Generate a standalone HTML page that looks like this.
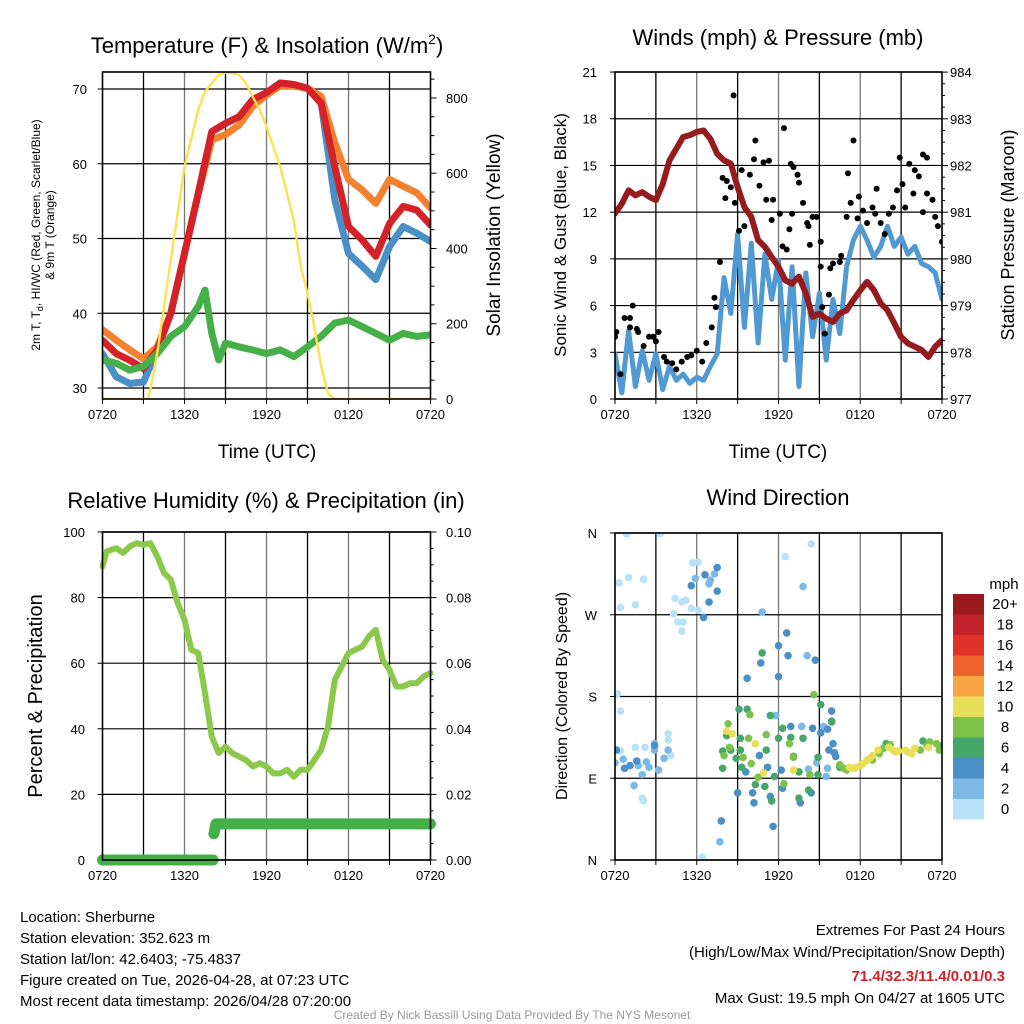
<!DOCTYPE html>
<html><head><meta charset="utf-8"><style>
html,body{margin:0;padding:0;background:#fff;}
svg{display:block;font-family:"Liberation Sans",sans-serif;}
</style></head><body>
<svg id="c" width="1024" height="1024" viewBox="0 0 1024 1024" xmlns="http://www.w3.org/2000/svg">
<rect width="1024" height="1024" fill="#fff"/>
<g font-size="22" text-anchor="middle" fill="#000">
<text x="267" y="53">Temperature (F) &amp; Insolation (W/m<tspan dy="-9" font-size="14">2</tspan><tspan dy="9">)</tspan></text>
<text x="778" y="45">Winds (mph) &amp; Pressure (mb)</text>
<text x="266" y="508">Relative Humidity (%) &amp; Precipitation (in)</text>
<text x="778" y="505">Wind Direction</text>
</g>
<g font-size="19" text-anchor="middle">
<text x="267" y="458">Time (UTC)</text>
<text x="778" y="458">Time (UTC)</text>
<text transform="translate(500,235) rotate(-90)">Solar Insolation (Yellow)</text>
<text transform="translate(1014,235) rotate(-90)" font-size="18">Station Pressure (Maroon)</text>
<text transform="translate(42,696) rotate(-90)" font-size="20">Percent &amp; Precipitation</text>
<text transform="translate(566,235) rotate(-90)" font-size="17">Sonic Wind &amp; Gust (Blue, Black)</text>
<text transform="translate(567,696) rotate(-90)" font-size="16">Direction (Colored By Speed)</text>
</g>
<g font-size="12" text-anchor="middle">
<text transform="translate(40,235) rotate(-90)">2m T, T<tspan dy="3" font-size="9">d</tspan><tspan dy="-3">, HI/WC (Red, Green, Scarlet/Blue)</tspan></text>
<text transform="translate(54,235) rotate(-90)">&amp; 9m T (Orange)</text>
</g>
<g id="layer"></g>
<g font-size="15" fill="#000">
<text x="20" y="922">Location: Sherburne</text>
<text x="20" y="943">Station elevation: 352.623 m</text>
<text x="20" y="964">Station lat/lon: 42.6403; -75.4837</text>
<text x="20" y="985">Figure created on Tue, 2026-04-28, at 07:23 UTC</text>
<text x="20" y="1006">Most recent data timestamp: 2026/04/28 07:20:00</text>
</g>
<g font-size="15" text-anchor="end">
<text x="1005" y="935">Extremes For Past 24 Hours</text>
<text x="1005" y="957">(High/Low/Max Wind/Precipitation/Snow Depth)</text>
<text x="1005" y="981" fill="#d0222a" font-weight="bold">71.4/32.3/11.4/0.01/0.3</text>
<text x="1005" y="1003">Max Gust: 19.5 mph On 04/27 at 1605 UTC</text>
</g>
<text x="512" y="1019" font-size="12" fill="#999" text-anchor="middle">Created By Nick Bassill Using Data Provided By The NYS Mesonet</text>
</svg>
<script>
// ---- Panel 1 data ----
const tHours = [0,1,2,3,4,5,6,7,8,9,10,11,12,13,14,15,16,17,18,19,20,21,22,23,24];
const tempRed = [36.4,34.6,33.7,32.6,35.1,40,48,56,64.3,65.4,66.3,68.6,69.5,70.8,70.6,70.1,68.1,59.6,51.6,49.8,47.6,52,54.3,53.8,51.8];
const temp9m = [37.8,36.4,35.1,33.9,35.5,40,48,56,63.2,63.9,65.2,67.7,69.2,70.4,70.4,70.1,69,62.8,57.9,56.5,54.7,57.9,57,56.1,54.1];
const tempHiWc = [34.6,31.5,30.6,30.8,35.1,40,48,56,64.3,65.4,66.3,68.6,69.5,70.8,70.6,70.1,68.1,55.2,48,46.3,44.5,48.9,51.6,50.7,49.6];
const dewHours = [0,1,2,3,4,5,6,7,7.5,8,8.5,9,10,11,12,13,14,15,16,17,18,19,20,21,22,23,24];
const dewVals = [33.75,33.3,32.4,32.9,34.6,36.9,38.2,40.9,43.1,37.3,33.75,36,35.5,35.1,34.6,35.1,34.2,35.5,36.9,38.7,39.1,38.2,37.3,36.4,37.3,36.9,37.1];
const solarHours = [0,3.3,3.5,4,5,6,7,7.5,8,8.5,9,9.5,10,10.5,11,11.5,12,13,14,14.5,15,15.5,16,16.5,17,24];
const solarVals = [0,0,24,121,369,617,768,817,839,861,867,866,861,839,803,768,724,617,476,352,281,192,86,15,0,0];
const p1LeftTicks = [30,40,50,60,70];
const p1RightTicks = [0,200,400,600,800];
const timeLabels = ["0720","1320","1920","0120","0720"];
// ---- Panel 2 data ----
const presHours = [0,0.5,1,1.5,2,2.5,3,3.5,4,5,5.5,6,6.5,7,7.5,8,8.5,9,9.5,10,10.5,11,11.5,12,12.5,13,13.5,14,14.5,15,15.5,16,16.5,17,17.5,18,18.5,19,19.5,20,20.5,21,21.5,22,22.5,23,23.5,24];
const presVals = [980.97,981.18,981.47,981.36,981.43,981.33,981.26,981.6,982.11,982.61,982.65,982.72,982.75,982.57,982.25,982.11,982.04,981.54,981.11,980.9,980.4,980.26,980.04,979.83,979.54,979.47,979.62,979.26,978.76,978.83,978.72,978.65,978.83,978.9,979.12,979.33,979.51,979.33,979.05,978.9,978.62,978.33,978.19,978.12,978.05,977.9,978.12,978.26];
const windHours = [0,0.5,1,1.5,2,2.5,3,3.5,4,4.5,5,5.5,6,6.5,7,7.5,8,8.5,9,9.5,10,10.5,11,11.5,12,12.5,13,13.5,14,14.5,15,15.5,16,16.5,17,17.5,18,18.5,19,19.5,20,20.5,21,21.5,22,22.5,23,23.5,24];
const windVals = [2.9,0.4,4.4,0.8,3.1,1.2,2.9,0.6,2.1,1.2,1.6,1.0,1.4,1.2,2.1,2.9,7.8,5.5,10.6,4.6,10,3.6,9.3,6.4,8.9,2.5,8.5,0.8,8.1,4,6.8,2.5,6.4,4.2,8.5,10.2,11.1,10.2,9.1,9.8,11.1,9.8,10.4,9.3,9.8,8.7,8.5,8.1,6.4];
const gustHours = [0,0.1,0.4,0.7,1.1,1.3,1.1,1.6,1.7,2.1,2.5,2.8,3,3.2,3.6,3.8,4.2,4.5,4.9,5.3,5.6,6,6.4,6.7,7.1,7.3,7.4,7.7,7.9,8.1,8.2,8.5,8.7,8.8,9.1,9.3,9.5,9.9,10.2,10.3,10.6,10.9,11.1,11.3,11.6,11.5,12.1,12.3,12.4,12.6,12.8,13,12.9,13.1,13.4,13.5,13.8,14.1,14.2,14.3,14.5,14.8,15.1,15.1,15.2,15.4,15.7,15.8,16,16.5,16.6,17,17.1,17.3,17.5,17.8,17.9,18.2,18.5,18.9,19.1,19.2,19.5,19.8,20.1,20.4,20.7,20.9,21.1,21.3,21.6,21.9,22,22.3,22.6,22.9,22.6,22.9,23.3,23.5,23.7,24];
const gustVals = [4.0,4.3,1.6,5.2,5.2,6.0,4.6,4.5,4.3,3.4,4.0,4.0,3.7,4.3,2.7,2.4,2.3,1.9,2.4,2.7,2.8,3.1,2.4,3.6,4.6,6.5,5.9,8.8,14.2,12.9,14,13.6,19.5,12.6,10.8,14.7,11.1,14.4,15.4,16.6,13.7,15.2,12.8,15.3,12.8,11.5,11.9,9.8,17.4,9.6,10.9,11.9,15.1,14.9,14.4,13.9,12.6,11.3,11.1,9.9,11.7,11.7,10.1,8.5,5.9,4.2,6.7,8.4,8.7,8.8,9.2,11.7,14.5,12.6,16.6,11.6,13,12.1,11.3,12.3,11.9,13.5,11.3,10.6,11.9,12.3,13.4,15.5,13.8,12.3,15.1,13.2,14.7,14.3,15.7,15.5,12,13.2,12.8,11.7,11.1,10.1];
const p2LeftTicks = [0,3,6,9,12,15,18,21];
const p2RightTicks = [977,978,979,980,981,982,983,984];
// ---- Panel 3 data ----
const rhHours = [0,0.3,1,1.5,2,2.5,3,3.5,4,4.5,5,5.5,6,6.5,7,7.5,8,8.5,9,9.5,10,10.5,11,11.5,12,12.5,13,13.5,14,14.5,15,15.5,16,16.5,17,17.5,18,18.5,19,19.5,20,20.5,21,21.5,22,22.5,23,23.5,24];
const rhVals = [89.5,94.1,95.1,93.6,95.6,96.6,96.1,96.6,92.6,87.5,85.5,78.3,73.2,64.1,63.1,50.9,37.6,32.6,34.6,32.6,31.5,30.5,28.5,29.5,28.5,26.4,26.4,27.5,25.4,27.5,27.5,30.5,33.6,40.7,54.9,59,63.1,64.1,65.1,68.2,70.2,61,58,52.9,52.9,53.9,53.9,56,57];
const precipHours = [0,8.1,8.15,8.3,24];
const precipVals = [0,0,0.008,0.011,0.011];
const p3LeftTicks = [0,20,40,60,80,100];
const p3RightTicks = ["0.00","0.02","0.04","0.06","0.08","0.10"];
// ---- Panel 4 data ----
const dirHours = [0.86,3.3,14.4,12.5,0.3,1,2.1,0.4,1.5,5.7,6.1,4.4,4.9,5.2,4.3,4.6,5,4.9,5.6,6.1,0.2,0.4,3.9,3.9,1.5,2.2,4.1,6.4,2,2.1,0.4,
 0,0.6,1.4,2,2.5,2.9,3.2,3.6,2.9,3.9,5.9,6.9,7.3,7,7.7,13.8,10.8,14.1,11.8,13.7,15.3,14.2,14.8,15.6,15.5,2.3,1.7,
 0.1,0.7,1.1,1.6,2.9,5.6,6.6,7.5,6.5,6.9,7.5,12.6,12,12.7,10.7,14.7,9.7,12,15.9,15.9,12.9,14.5,15.6,15.1,16,15.7,16.1,16.2,10.6,9.6,11.2,12.2,12.3,9,10.1,10.2,11.4,13.6,14.4,11.6,7.8,
 10.8,9.1,9.7,11.4,12.3,12.9,13.8,15.1,15.9,8.2,9.2,7.9,8.5,9.2,8.9,9.3,7.9,11.1,12,13.1,13.5,11.7,10.3,11,11.5,13.5,14.2,14.9,14.9,16.5,24,22.6,19.9,
 8.3,9.9,8.4,8,9.4,9.8,10,11.1,12.8,13.1,14.6,12.4,10.5,14.3,16.5,16.8,17,18.9,19.4,19.7,20.2,22.9,23.1,23.6,23.8,22.4,
 8.2,8.6,10.3,10.9,13.1,17.2,17.5,18,18.5,18.9,19.3,20.4,20.8,21.3,21.8,22,23,20.1,17.7,18.2,18.7,20.6,21.5];
const dirDegs = [359,359,348,334,305,311,309,278,281,327,328,288,284,286,271,262,262,252,277,275,183,164,139,132,124,124,115,3,68,65,120,
 107,111,82,94,102,121,99,112,128,121,310,304,315,308,20,301,273,225,159,147,147,100,107,101,92,108,104,
 121,101,104,109,126,302,314,296,267,284,322,250,236,225,217,220,200,202,164,153,147,145,144,140,128,121,118,114,115,97,102,99,79,74,74,63,70,63,74,37,43,
 228,166,166,159,145,135,134,171,152,137,134,120,121,121,112,102,101,121,134,114,97,92,83,81,65,68,77,113,94,102,126,131,128,
 150,160,124,115,113,134,106,138,128,113,182,84,91,94,105,101,99,110,117,123,127,126,130,128,121,121,
 142,139,128,96,99,102,101,104,110,115,121,121,120,121,117,123,124,124,102,106,112,119,119];
const dirSpeeds = [1,1,1,1,1,1,1,1,1,1,1,1,1,1,1,1,1,1,1,1,1,1,1,1,1,1,1,1,1,1,1,
 3,3,3,3,3,3,3,3,3,3,3,3,3,3,3,3,3,3,3,3,3,3,3,3,3,3,3,
 5,5,5,5,5,5,5,5,5,5,5,5,5,5,5,5,5,5,5,5,5,5,5,5,5,5,5,5,5,5,5,5,5,5,5,5,5,5,5,5,5,
 7,7,7,7,7,7,7,7,7,7,7,7,7,7,7,7,7,7,7,7,7,7,7,7,7,7,7,7,7,7,7,7,7,
 9,9,9,9,9,9,9,9,9,9,9,9,9,9,9,9,9,9,9,9,9,9,9,9,9,9,
 11,11,11,11,11,11,11,11,11,11,11,11,11,11,11,11,11,11,11,11,11,11,11];
const dirTickLabels = ["N","E","S","W","N"];
const dirTickDegs = [0,90,180,270,360];
const legendLabels = ["20+","18","16","14","12","10","8","6","4","2","0"];
const legendColors = ["#99191d","#c1222a","#df3329","#f0622c","#f8a643","#e8df58","#7dc24b","#45a86a","#4a8fc6","#7cb9e6","#b8e2f8"];

const NS="http://www.w3.org/2000/svg";
const layer=document.getElementById('layer');
function mk(tag,attrs,parent){const e=document.createElementNS(NS,tag);for(const k in attrs)e.setAttribute(k,attrs[k]);(parent||layer).appendChild(e);return e;}
function pathD(xs,ys,fx,fy){return xs.map((h,i)=>(i?'L':'M')+fx(h).toFixed(1)+','+fy(ys[i]).toFixed(1)).join('');}
function speedColor(s){const idx=Math.min(10,Math.floor(s/2));return legendColors[10-idx];}

function frame(name,x0,x1,y0,y1,hGrid){
  const g=mk('g',{});
  
  
  const fx=h=>x0+(x1-x0)*h/24;
  for(let h=3;h<24;h+=3){mk('line',{x1:fx(h),x2:fx(h),y1:y0,y2:y1,stroke:h%6===0?'#777':'#000','stroke-width':1.3},g);}
  hGrid.forEach(y=>{mk('line',{x1:x0,x2:x1,y1:y,y2:y,stroke:'#000','stroke-width':1.2},g);});
  for(let h=0;h<=24;h+=3){mk('line',{x1:fx(h),x2:fx(h),y1:y1,y2:y1+5,stroke:'#000','stroke-width':1},g);}
  const xl=mk('g',{'font-size':13,'text-anchor':'middle'});
  
  
  timeLabels.forEach((t,i)=>{const tx=mk('text',{x:fx(i*6),y:y1+20},xl);tx.textContent=t;});
  return fx;
}
function border(name,x0,x1,y0,y1){
  const r=mk('rect',{x:x0,y:y0,width:x1-x0,height:y1-y0,fill:'none',stroke:'#000','stroke-width':1.6});
  
  
}

// ===== Panel 1 =====
(function(){
  const x0=102.5,x1=430.5,y0=72,y1=399;
  const yL=v=>388-(v-30)*7.475, yR=v=>399-v*0.3763;
  const fx=frame('temp-panel',x0,x1,y0,y1,p1LeftTicks.map(yL));
  const lt=mk('g',{'font-size':13,'text-anchor':'end'});
  
  
  p1LeftTicks.forEach(v=>{const t=mk('text',{x:87,y:yL(v)+5},lt);t.textContent=v;mk('line',{x1:x0-5,x2:x0,y1:yL(v),y2:yL(v),stroke:'#000'},lt);});
  const rt=mk('g',{'font-size':13,'text-anchor':'start'});
  
  
  p1RightTicks.forEach(v=>{const t=mk('text',{x:446,y:yR(v)+5},rt);t.textContent=v;});
  for(let v=0;v<=850;v+=50){mk('line',{x1:x1,x2:x1+(v%200===0?6:4),y1:yR(v),y2:yR(v),stroke:'#000'},rt);}
  const clip=mk('clipPath',{id:'c1'});mk('rect',{x:x0,y:y0-3,width:x1-x0,height:y1-y0+3},clip);
  const s=mk('g',{'clip-path':'url(#c1)','fill':'none','stroke-linejoin':'round','stroke-linecap':'round'});
  let p;
  p=mk('path',{d:pathD(tHours,tempHiWc,fx,yL),stroke:'#4a8fc6','stroke-width':7},s);
  
  
  p=mk('path',{d:pathD(tHours,temp9m,fx,yL),stroke:'#f4812f','stroke-width':7},s);
  
  
  p=mk('path',{d:pathD(tHours,tempRed,fx,yL),stroke:'#d42228','stroke-width':7},s);
  
  
  p=mk('path',{d:pathD(dewHours,dewVals,fx,yL),stroke:'#46b048','stroke-width':7},s);
  
  
  p=mk('path',{d:pathD(solarHours,solarVals,fx,yR),stroke:'#fde24f','stroke-width':2.4},s);
  
  
  border('temp-panel',x0,x1,y0,y1);
})();

// ===== Panel 2 =====
(function(){
  const x0=615,x1=942,y0=72,y1=399;
  const yL=v=>399-v*15.57, yR=p=>399-(p-977)*46.7;
  const fx=frame('wind-panel',x0,x1,y0,y1,p2LeftTicks.map(yL));
  const lt=mk('g',{'font-size':13,'text-anchor':'end'});
  
  
  p2LeftTicks.forEach(v=>{const t=mk('text',{x:597,y:yL(v)+5},lt);t.textContent=v;mk('line',{x1:x0-5,x2:x0,y1:yL(v),y2:yL(v),stroke:'#000'},lt);});
  const rt=mk('g',{'font-size':13,'text-anchor':'start'});
  
  
  p2RightTicks.forEach(v=>{const t=mk('text',{x:950,y:yR(v)+5},rt);t.textContent=v;});
  for(let v=977;v<=984.01;v+=0.25){mk('line',{x1:x1,x2:x1+(Math.abs(v-Math.round(v))<0.01?6:3),y1:yR(v),y2:yR(v),stroke:'#000'},rt);}
  const clip=mk('clipPath',{id:'c2'});mk('rect',{x:x0,y:y0,width:x1-x0,height:y1-y0},clip);
  const s=mk('g',{'clip-path':'url(#c2)','fill':'none','stroke-linejoin':'round','stroke-linecap':'round'});
  let p=mk('path',{d:pathD(windHours,windVals,fx,yL),stroke:'#5199d3','stroke-width':5},s);
  
  
  const gg=mk('g',{fill:'#000'},s);
  
  
  gustHours.forEach((h,i)=>{const c=mk('circle',{cx:fx(h),cy:yL(gustVals[i]),r:3},gg);
    
    });
  p=mk('path',{d:pathD(presHours,presVals,fx,yR),stroke:'#961b1e','stroke-width':6},s);
  
  
  border('wind-panel',x0,x1,y0,y1);
})();

// ===== Panel 3 =====
(function(){
  const x0=102.5,x1=430.5,y0=532,y1=860;
  const yL=v=>860-v*3.28, yR=v=>860-v*3280;
  const fx=frame('humidity-panel',x0,x1,y0,y1,p3LeftTicks.map(yL));
  const lt=mk('g',{'font-size':13,'text-anchor':'end'});
  
  
  p3LeftTicks.forEach(v=>{const t=mk('text',{x:85,y:yL(v)+5},lt);t.textContent=v;mk('line',{x1:x0-5,x2:x0,y1:yL(v),y2:yL(v),stroke:'#000'},lt);});
  const rt=mk('g',{'font-size':13,'text-anchor':'start'});
  
  
  p3RightTicks.forEach(v=>{const t=mk('text',{x:446,y:yR(+v)+5},rt);t.textContent=v;});
  for(let k=0;k<=20;k++){const v=k*0.005;mk('line',{x1:x1,x2:x1+(k%4===0?6:3),y1:yR(v),y2:yR(v),stroke:'#000'},rt);}
  const s=mk('g',{'fill':'none','stroke-linejoin':'round','stroke-linecap':'round'});
  let p=mk('path',{d:pathD(rhHours,rhVals,fx,yL),stroke:'#8cc84b','stroke-width':6},s);
  
  
  const i0=precipHours.findIndex((h,i)=>precipVals[i]>0);
  p=mk('path',{d:pathD(precipHours.slice(0,i0),precipVals.slice(0,i0),fx,yR),stroke:'#46b048','stroke-width':11},s);
  
  
  p=mk('path',{d:pathD(precipHours.slice(i0),precipVals.slice(i0),fx,yR),stroke:'#46b048','stroke-width':11},s);
  
  
  border('humidity-panel',x0,x1,y0,y1);
})();

// ===== Panel 4 =====
(function(){
  const x0=615,x1=942,y0=533,y1=860;
  const yD=d=>860-d*327/360;
  const fx=frame('direction-panel',x0,x1,y0,y1,dirTickDegs.map(yD));
  const lt=mk('g',{'font-size':13,'text-anchor':'end'});
  
  
  dirTickDegs.forEach((d,i)=>{const t=mk('text',{x:597,y:yD(d)+5},lt);t.textContent=dirTickLabels[i];mk('line',{x1:x0-5,x2:x0,y1:yD(d),y2:yD(d),stroke:'#000'},lt);});
  const clip=mk('clipPath',{id:'c4'});mk('rect',{x:x0,y:y0,width:x1-x0,height:y1-y0},clip);
  const s=mk('g',{'clip-path':'url(#c4)'});
  
  
  dirHours.forEach((h,i)=>{const c=mk('circle',{cx:fx(h),cy:yD(dirDegs[i]),r:3.8,fill:speedColor(dirSpeeds[i])},s);
    
    });
  border('direction-panel',x0,x1,y0,y1);
  const lg=mk('g',{'font-size':15,'text-anchor':'middle'});
  
  
  const ut=mk('text',{x:1004,y:589},lg);ut.textContent='mph';
  legendLabels.forEach((l,i)=>{
    const r=mk('rect',{x:953,y:594+i*20.5,width:31,height:20.5,fill:legendColors[i]},lg);
    
    
    const t=mk('text',{x:1005,y:609+i*20.5},lg);t.textContent=l;
  });
})();
</script>
</body></html>
